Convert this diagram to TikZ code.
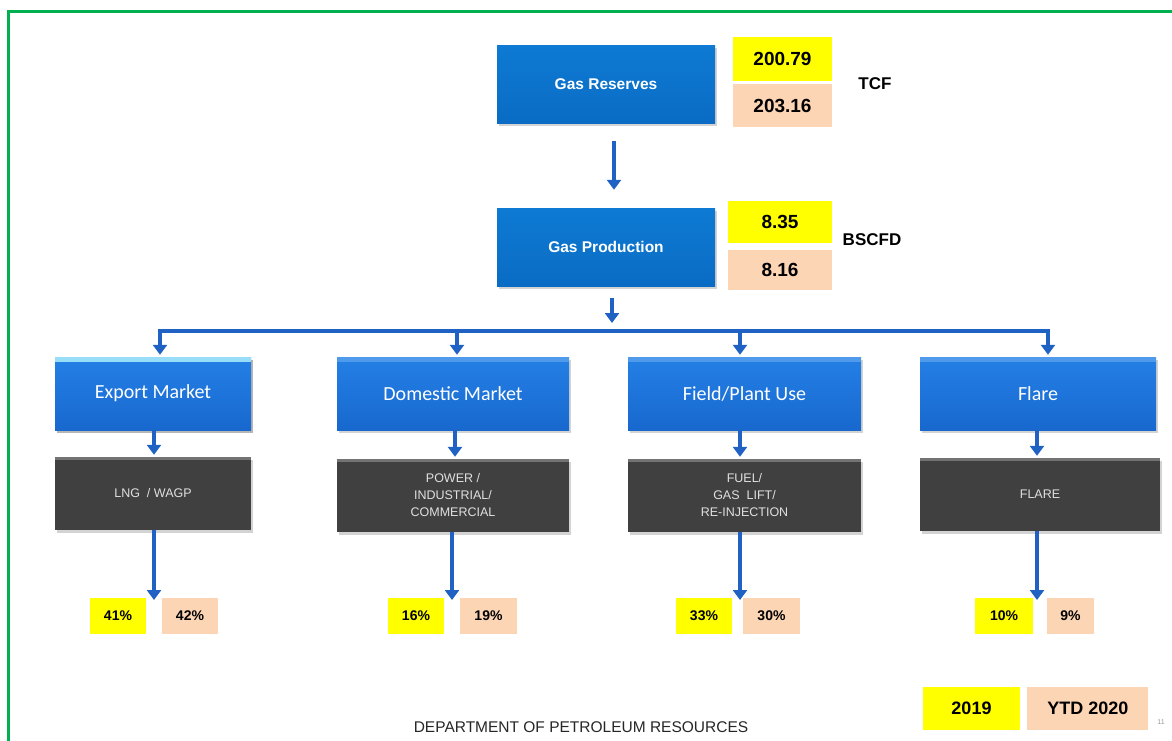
\documentclass[tikz,border=0pt]{standalone}
\usepackage{fontspec}
\setmainfont{Liberation Sans}
\newfontfamily\calibri{Carlito}
\usetikzlibrary{arrows.meta}
\usetikzlibrary{positioning}
\usetikzlibrary{shadows}

\definecolor{flowblue}{HTML}{1F62C4}
\definecolor{boxblue}{HTML}{0E7AD3}
\definecolor{boxblueD}{HTML}{0A6CC4}
\definecolor{mktblue}{HTML}{2480E6}
\definecolor{mktblueD}{HTML}{1868CE}
\definecolor{usegray}{HTML}{404040}
\definecolor{hlyellow}{HTML}{FFFF00}
\definecolor{hlpeach}{HTML}{FCD5B4}
\definecolor{frame}{HTML}{00B050}

\tikzset{
  flow/.style={draw=flowblue, line width=4pt, -{Triangle[width=14pt,length=10pt]}},
  bus/.style={draw=flowblue, line width=4pt, line cap=rect},
  shade/.style={drop shadow={opacity=0.35, shadow xshift=2pt, shadow yshift=-3pt}},
  topbox/.style={shade, rectangle, minimum width=218pt, minimum height=78pt,
    top color=boxblue, bottom color=boxblueD, draw=none,
    text=white, font=\bfseries\fontsize{15.5}{18}\selectfont},
  market/.style={shade, rectangle, minimum height=73pt,
    top color=mktblue, bottom color=mktblueD, draw=none,
    text=white, font=\calibri\fontsize{20}{24}\selectfont,
    path picture={\fill[#1] (path picture bounding box.north west)
      rectangle ([yshift=-5pt]path picture bounding box.north east);}},
  market/.default=mktblue!80!white,
  usebox/.style={shade, rectangle, minimum height=73pt, fill=usegray,
    text=black!12, align=center, font=\fontsize{12.5}{17}\selectfont,
    path picture={\fill[black!55] (path picture bounding box.north west)
      rectangle ([yshift=-3pt]path picture bounding box.north east);}},
  yr19/.style={rectangle, fill=hlyellow, font=\bfseries\fontsize{19}{22}\selectfont},
  yr20/.style={rectangle, fill=hlpeach, font=\bfseries\fontsize{19}{22}\selectfont},
  pct19/.style={yr19, minimum width=56pt, minimum height=36pt, font=\bfseries\fontsize{14}{16}\selectfont},
  pct20/.style={yr20, minimum width=56pt, minimum height=36pt, font=\bfseries\fontsize{14}{16}\selectfont},
  unit/.style={font=\bfseries\fontsize{17}{20}\selectfont}
}

\begin{document}
\begin{tikzpicture}[x=1pt, y=-1pt]
  \useasboundingbox (0,0) rectangle (1172,740);
  \draw[frame, line width=3pt] (8.5,745) |- (1180,11.5);

  % reserves and production
  \node[topbox] (res) at (606,84) {Gas Reserves};
  \node[yr19, minimum width=99pt, minimum height=44pt] (res19) at (782.5,59) {200.79};
  \node[yr20, minimum width=99pt, minimum height=43pt, below=3pt of res19] (res20) {203.16};
  \node[unit] (tcf) at (875,84) {TCF};

  \node[topbox] (prod) at (606,247) {Gas Production};
  \node[yr19, minimum width=104pt, minimum height=42pt] (prod19) at (780,222) {8.35};
  \node[yr20, minimum width=104pt, minimum height=40pt, below=7pt of prod19] (prod20) {8.16};
  \node[unit] (bscfd) at (872,240) {BSCFD};

  \draw[flow, shorten <=18pt, shorten >=18pt] ([xshift=8pt]res.south) -- ([xshift=8pt]prod.north);

  \coordinate (split) at (612,323);
  \coordinate (busL) at (160,331);
  \coordinate (busR) at (1048,331);
  \draw[flow, shorten <=12pt] ([xshift=6pt]prod.south) -- (split);
  \draw[bus] (busL) -- (busR);

  % where the gas goes
  \node[market, minimum width=196pt, market=cyan!40!white] (export) at (153,393.5) {Export Market};
  \node[market, minimum width=232pt] (domestic) at (453,393.5) {Domestic Market};
  \node[market, minimum width=233pt] (field) at (744.5,393.5) {Field/Plant Use};
  \node[market, minimum width=236pt] (flare) at (1038,393.5) {Flare};

  \node[usebox, minimum width=196pt] (lng) at (153,493.5) {LNG\ \ /\ WAGP};
  \node[usebox, minimum width=232pt] (power) at (453,495.5) {POWER /\\INDUSTRIAL/\\COMMERCIAL};
  \node[usebox, minimum width=233pt] (fuel) at (744.5,495.5) {FUEL/\\GAS\ \ LIFT/\\RE-INJECTION};
  \node[usebox, minimum width=240pt] (flaring) at (1040,494.5) {FLARE};

  \foreach \m/\dx in {export/7, domestic/4, field/-4.5, flare/10}
    \draw[flow, shorten >=2pt] ([xshift=\dx pt]\m.north |- busL) -- ([xshift=\dx pt]\m.north);

  \foreach \m/\u/\dx in {export/lng/1, domestic/power/2, field/fuel/-4.5, flare/flaring/-1}
    \draw[flow, shorten >=2pt] ([xshift=\dx pt]\m.south) -- ([xshift=\dx pt]\m.south |- \u.north);

  \coordinate (lngend) at (154,600);
  \coordinate (powerend) at (452,600);
  \coordinate (fuelend) at (740,600);
  \coordinate (flaringend) at (1037,600);
  \foreach \u in {lng, power, fuel, flaring}
    \draw[flow] (\u.south -| \u end) -- (\u end);

  % shares
  \node[pct19] (lng19) at (118,616) {41\%};
  \node[pct20] (lng20) at (190,616) {42\%};
  \node[pct19] (power19) at (416,616) {16\%};
  \node[pct20, minimum width=57pt] (power20) at (488.5,616) {19\%};
  \node[pct19] (fuel19) at (704,616) {33\%};
  \node[pct20, minimum width=57pt] (fuel20) at (771.5,616) {30\%};
  \node[pct19, minimum width=58pt] (flaring19) at (1004,616) {10\%};
  \node[pct20, minimum width=47pt] (flaring20) at (1070.5,616) {9\%};

  % key and footer
  \node[yr19, minimum width=97pt, minimum height=43pt, font=\bfseries\fontsize{18}{20}\selectfont] (key19) at (971.5,708.5) {2019};
  \node[yr20, minimum width=121pt, minimum height=43pt, font=\bfseries\fontsize{18}{20}\selectfont, right=7pt of key19] (key20) {YTD 2020};
  \node[text=black!85, font=\fontsize{15.5}{18}\selectfont] (dpr) at (581,727) {DEPARTMENT OF PETROLEUM RESOURCES};
  \node[text=black!40, font=\fontsize{7}{8}\selectfont] (page) at (1161,722) {11};
\end{tikzpicture}
\end{document}
